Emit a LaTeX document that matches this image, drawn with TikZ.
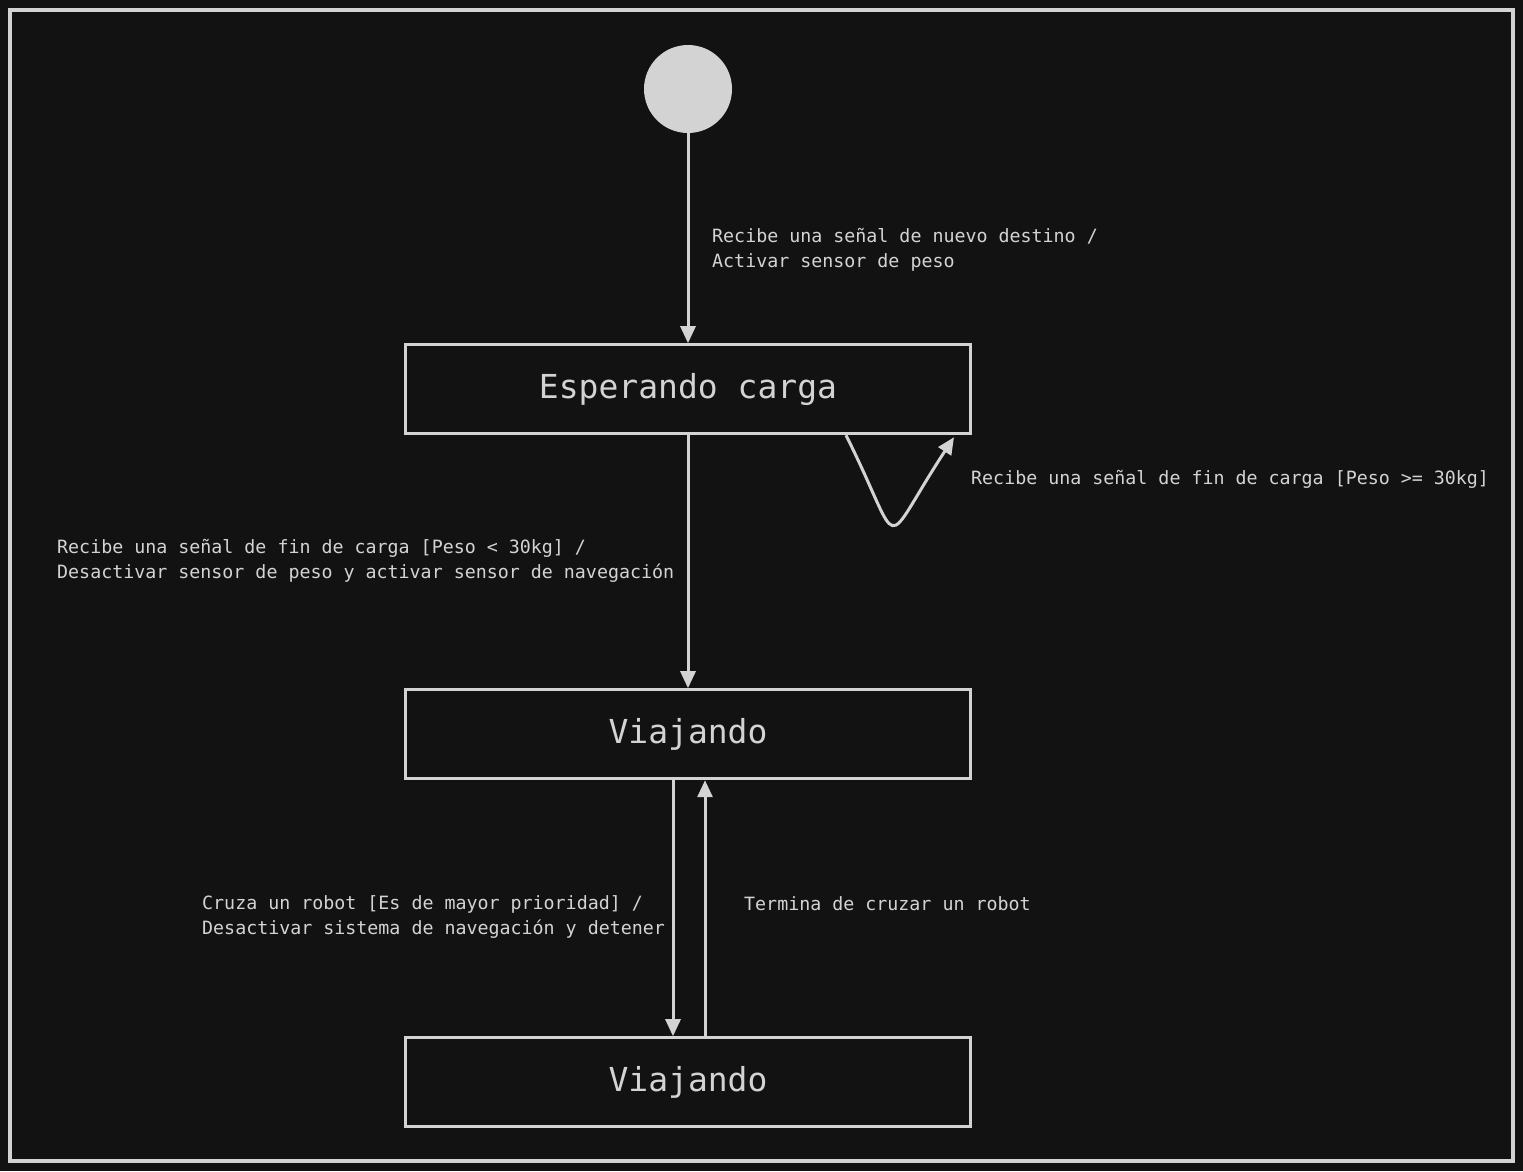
\documentclass[tikz,border=0pt]{standalone}
\usepackage{fontspec}
\setmonofont{DejaVu Sans Mono}
\usepackage{xcolor}
\usepackage{tikz}
\usetikzlibrary{positioning, arrows.meta}

\definecolor{bgdark}{HTML}{121212}
\definecolor{inkgray}{HTML}{D3D3D3}

\begin{document}
\begin{tikzpicture}[
        x=1pt, y=-1pt,
        node distance=210pt,
        every node/.style={text=inkgray},
        initial/.style={circle, fill=inkgray, minimum size=88pt, inner sep=0pt},
        state/.style={draw=inkgray, line width=3pt, minimum width=565pt, minimum height=89pt, inner sep=0pt, font=\ttfamily\fontsize{33}{40}\selectfont},
        guard/.style={align=left, inner sep=0pt, anchor=west, font=\ttfamily\fontsize{18.3}{25}\selectfont},
        arrow/.style={-{Triangle[length=17pt, width=15pt]}, draw=inkgray, line width=3pt}
    ]

    % Background
    \fill[bgdark] (0,0) rectangle (1523,1171);
    \useasboundingbox (0,0) rectangle (1523,1171);
    \draw[inkgray, line width=4pt] (10,10) rectangle (1513,1161);

    % Nodes
    \node[initial] (init) at (688,89) {};
    \node[state, below=210pt of init] (wait) {Esperando carga};
    \node[state, below=253pt of wait] (travel) {Viajando};
    \node[state, below=256pt of travel] (stop) {Viajando};

    % Labels
    \node[guard] (lblstart) at (712,250) {Recibe una señal de nuevo destino /\\Activar sensor de peso};
    \node[guard] (lblload) at (57,561) {Recibe una señal de fin de carga [Peso < 30kg] /\\Desactivar sensor de peso y activar sensor de navegación};
    \node[guard] (lblheavy) at (971,479) {Recibe una señal de fin de carga [Peso >= 30kg]};
    \node[guard] (lblcross) at (202,917) {Cruza un robot [Es de mayor prioridad] /\\Desactivar sistema de navegación y detener};
    \node[guard] (lblresume) at (744,904) {Termina de cruzar un robot};

    % Arrows
    \draw[arrow] (init) -- (wait);
    \draw[arrow] (wait) -- (travel);
    \draw[arrow] ([xshift=158pt]wait.south) .. controls ([xshift=217pt, yshift=-118pt]wait.south) and ([xshift=190pt, yshift=-118pt]wait.south) .. ([xshift=266pt, yshift=-2pt]wait.south);
    \draw[arrow] ([xshift=-15pt]travel.south) -- ([xshift=-15pt]stop.north);
    \draw[arrow] ([xshift=17pt]stop.north) -- ([xshift=17pt]travel.south);

\end{tikzpicture}
\end{document}
